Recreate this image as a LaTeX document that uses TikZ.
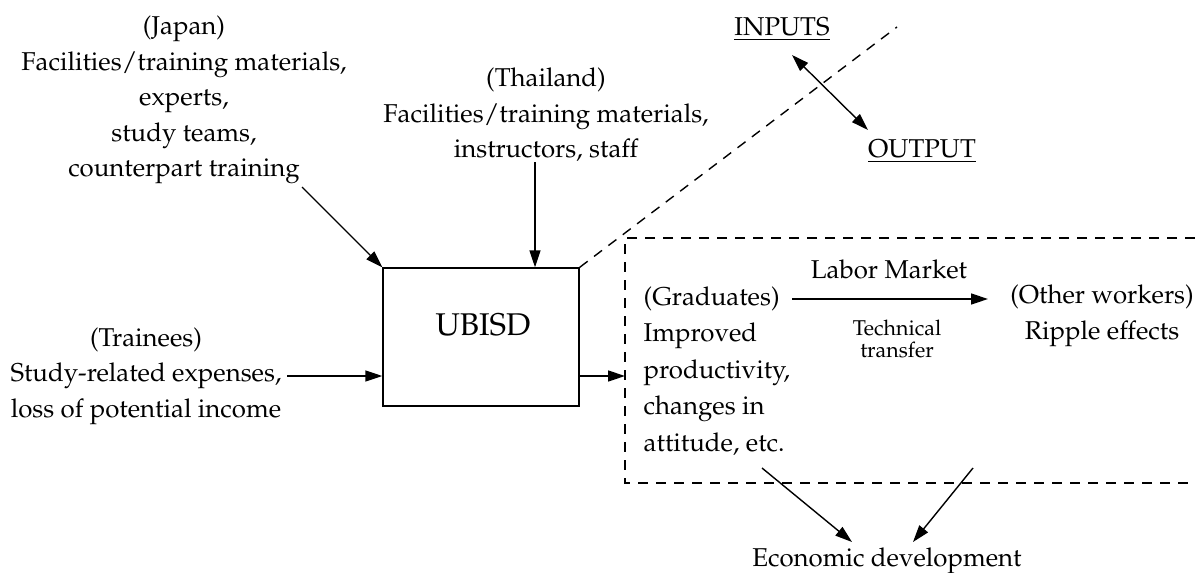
\documentclass[tikz,border=0pt]{standalone}
\usepackage[T1]{fontenc}
\usepackage{mathpazo}
\usetikzlibrary{arrows.meta}
\begin{document}
\begin{tikzpicture}[x=0.5pt,y=-0.5pt,line width=0.7pt,
		every node/.style={inner sep=2.5pt,font=\fontsize{12.9}{17.75}\selectfont},
		flow/.style={-{Triangle[length=8.5pt,width=5.5pt]}},
		boundary/.style={dash pattern=on 5pt off 4pt}
	]
	\useasboundingbox (0,0) rectangle (1195,573);
	\node[draw,minimum width=98pt,minimum height=69pt,inner sep=0pt] (ubisd) at (481,337) {};
	\node[anchor=base,font=\fontsize{15.7}{18}\selectfont] (ubisdlabel) at (483,335) {UBISD};
	\node[align=center] (japan) at (184,100) {(Japan)\\Facilities/training materials,\\experts,\\study teams,\\counterpart training};
	\node[align=center] (thai) at (546,115) {(Thailand)\\Facilities/training materials,\\instructors, staff};
	\node[align=center] (trainees) at (146,376) {(Trainees)\\Study-related expenses,\\loss of potential income};
	\node[align=left,anchor=west,font=\fontsize{12.9}{18.25}\selectfont] (graduates) at (638,371) {(Graduates)\\Improved\\productivity,\\changes in\\attitude, etc.};
	\node[align=center] (others) at (1102,316) {(Other workers)\\Ripple effects};
	\node[anchor=base] (labor) at (889,278) {Labor Market};
	\node[align=center,font=\fontsize{10.7}{11}\selectfont] (transfer) at (897,339) {Technical\\transfer};
	\node[anchor=base] (econ) at (887,566) {Economic development};
	\node[anchor=base] (inputs) at (782,35) {\underline{INPUTS}};
	\node[anchor=base] (output) at (922,157) {\underline{OUTPUT}};
	\coordinate (japanfoot) at (302,187);
	\coordinate (thaifoot) at (535,162);
	\coordinate (outtip) at (625,376);
	\coordinate (lmstart) at (792,299);
	\coordinate (lmend) at (988,299);
	\coordinate (gradfoot) at (762,468);
	\coordinate (otherfoot) at (973,468);
	\coordinate (econleft) at (852,542);
	\coordinate (econright) at (913,542);
	\coordinate (ioa) at (792,55);
	\coordinate (iob) at (868,130);
	\coordinate (splitend) at (897,27);
	\draw[flow] (japanfoot) -- (ubisd.north west);
	\draw[flow] (thaifoot) -- (thaifoot |- ubisd.north);
	\draw[flow] (trainees.east) -- (trainees.east -| ubisd.west);
	\draw[flow] (outtip -| ubisd.east) -- (outtip);
	\draw[flow] (lmstart) -- (lmend);
	\draw[flow] (gradfoot) -- (econleft);
	\draw[flow] (otherfoot) -- (econright);
	\draw[{Triangle[length=8.5pt,width=5.5pt]}-{Triangle[length=8.5pt,width=5.5pt]}] (ioa) -- (iob);
	\draw[boundary] (ubisd.north east) -- (splitend);
	\draw[boundary] (1195,238) -- (625,238) -- (625,483) -- (1195,483);
\end{tikzpicture}
\end{document}
